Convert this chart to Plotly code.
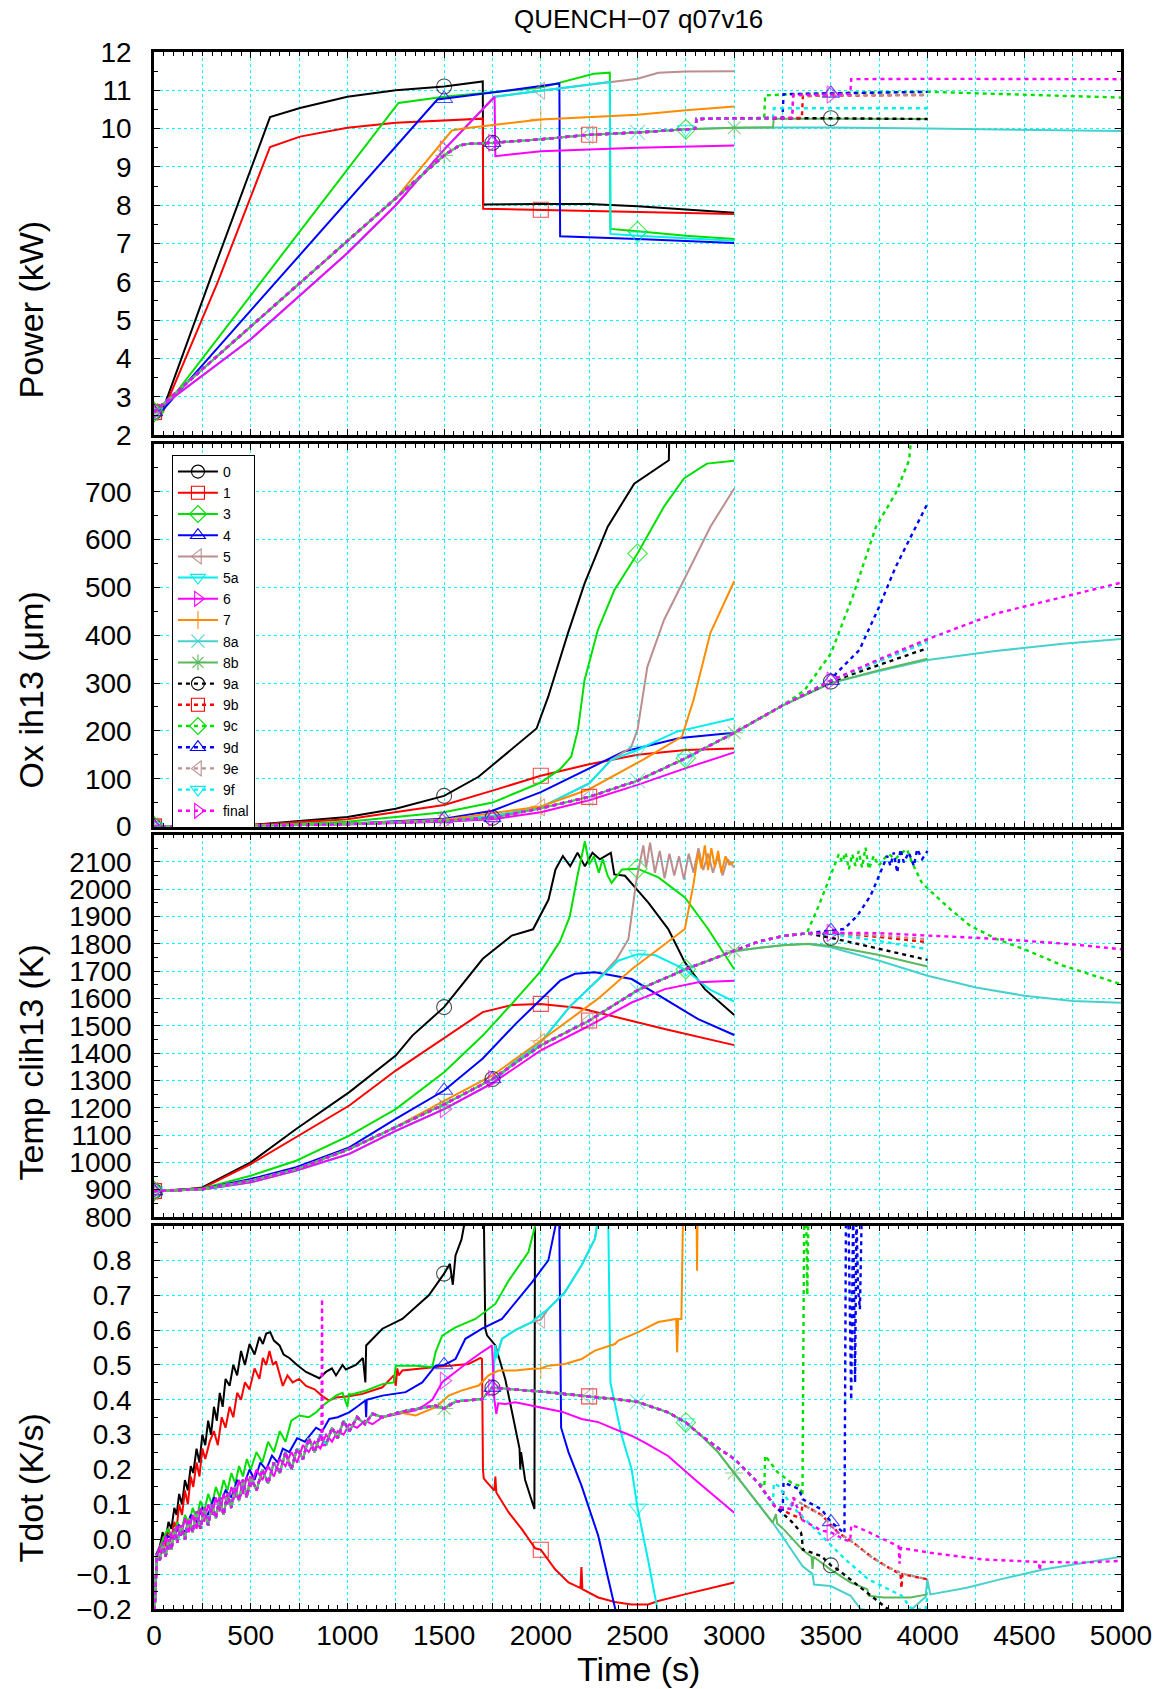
import plotly.graph_objects as go

# ---------------------------------------------------------------- series
SERIES = ["0", "1", "3", "4", "5", "5a", "6", "7", "8a", "8b",
          "9a", "9b", "9c", "9d", "9e", "9f", "final"]
COLORS = ["#000000", "#ff0000", "#00e000", "#0000ff", "#bc8f8f", "#00eeee",
          "#ff00ff", "#ff8c00", "#48d1cc", "#5cb85c",
          "#000000", "#ff0000", "#00e000", "#0000ff", "#bc8f8f", "#00eeee", "#ff00ff"]
SYMBOLS = ["circle-open", "square-open", "diamond-open", "triangle-up-open",
           "triangle-left-open", "triangle-down-open", "triangle-right-open",
           "cross-thin-open", "x-thin-open", "asterisk-open",
           "circle-open", "square-open", "diamond-open", "triangle-up-open",
           "triangle-left-open", "triangle-down-open", "triangle-right-open"]
DOTTED = [False] * 10 + [True] * 7
MARK_TIMES = [[0, 1500], [0, 2000], [0, 2500], [0, 1500], [0, 2000], [0, 2500],
              [0, 1500], [0, 2000], [0, 2500], [0, 1500, 3000],
              [0, 1750, 3500], [0, 2250], [0, 2750], [0, 1750, 3500],
              [0, 2250], [0, 2750], [0, 1750, 3500]]

# ---------------------------------------------------------------- Power (kW)
PW_0_T = [0, 45, 300, 600, 755, 1000, 1250, 1500, 1700, 1702, 2000, 2250, 2500, 2750, 3000]
PW_0 = [2.6, 2.65, 6.2, 10.3, 10.54, 10.83, 11.0, 11.1, 11.23, 8.02, 8.03, 8.03, 7.97, 7.88, 7.8]
PW_1_T = [0, 50, 330, 600, 755, 1000, 1250, 1500, 1700, 1702, 2000, 2500, 3000]
PW_1 = [2.6, 2.65, 6.0, 9.52, 9.79, 10.02, 10.15, 10.21, 10.26, 7.91, 7.88, 7.83, 7.77]
PW_3_T = [0, 45, 1264, 1500, 2000, 2155, 2274, 2357, 2360, 2500, 2750, 3000]
PW_3 = [2.6, 2.65, 10.67, 10.83, 11.07, 11.28, 11.43, 11.46, 7.38, 7.32, 7.2, 7.12]
PW_4_T = [0, 45, 1465, 1500, 1750, 2096, 2100, 2500, 3000]
PW_4 = [2.6, 2.65, 10.76, 10.78, 10.94, 11.18, 7.19, 7.12, 7.01]
PW_5_T = [0, 500, 1000, 1250, 1500, 1761, 2000, 2357, 2500, 2608, 2750, 3000]
PW_5 = [2.6, 4.5, 6.75, 8.0, 9.45, 10.83, 10.99, 11.22, 11.3, 11.46, 11.49, 11.5]
PW_5A_T = [0, 500, 1000, 1250, 1500, 1761, 2000, 2357, 2360, 2500, 3000]
PW_5A = [2.6, 4.5, 6.75, 8.0, 9.45, 10.83, 10.99, 11.22, 7.25, 7.2, 7.07]
PW_6_T = [0, 500, 1000, 1250, 1500, 1761, 1765, 2000, 2500, 3000]
PW_6 = [2.6, 4.5, 6.75, 8.0, 9.45, 10.83, 9.28, 9.41, 9.5, 9.56]
PW_7_T = [0, 1250, 1540, 1600, 2000, 2500, 2750, 3000]
PW_7 = [2.6, 8.18, 9.95, 10.0, 10.24, 10.36, 10.48, 10.58]
PW_RAMP_T = [0, 1500, 1580, 1620, 1750, 2000, 2250, 2500, 2750]
PW_RAMP = [2.6, 9.3, 9.56, 9.6, 9.63, 9.72, 9.84, 9.9, 9.98]
PW_8A_TAIL_T = [3000, 3200, 3500, 4000, 4500, 5000]
PW_8A_TAIL = [10.02, 10.03, 10.03, 10.0, 9.97, 9.94]
PW_8B_TAIL_T = [3000, 3200, 3205, 3500, 4000]
PW_8B_TAIL = [10.02, 10.03, 10.26, 10.26, 10.25]
PW_9_STEP_T = [2800, 2805, 3000]
PW_9_STEP = [10.0, 10.25, 10.27]
PW_9A_TAIL_T = [3500, 4000]
PW_9A_TAIL = [10.27, 10.25]
PW_9B_TAIL_T = [3350, 3355, 3500, 4000]
PW_9B_TAIL = [10.28, 10.85, 10.86, 10.88]
PW_9C_TAIL_T = [3155, 3160, 3500, 4000, 4500, 5000]
PW_9C_TAIL = [10.28, 10.87, 10.93, 10.96, 10.88, 10.81]
PW_9D_TAIL_T = [3250, 3255, 3500, 4000]
PW_9D_TAIL = [10.28, 10.9, 10.92, 10.96]
PW_9E_TAIL_T = [3300, 3305, 3500, 4000]
PW_9E_TAIL = [10.28, 10.86, 10.87, 10.88]
PW_9F_TAIL_T = [3200, 3205, 3500, 4000]
PW_9F_TAIL = [10.28, 10.53, 10.53, 10.53]
PW_FINAL_TAIL_T = [3300, 3305, 3500, 3600, 3605, 4000, 5000]
PW_FINAL_TAIL = [10.28, 10.88, 10.89, 10.9, 11.29, 11.3, 11.29]

# ---------------------------------------------------------------- Ox ih13 (um)
OX_0_T = [0, 500, 1000, 1250, 1500, 1678, 1978, 2038, 2140, 2226, 2346, 2483, 2662, 2665]
OX_0 = [0, 3, 20, 37, 64, 104, 205, 271, 404, 508, 627, 717, 766, 830]
OX_1_T = [0, 500, 1000, 1500, 1750, 2000, 2250, 2500, 2750, 3000]
OX_1 = [0, 3, 15, 45, 75, 106, 130, 150, 160, 163]
OX_3_T = [0, 500, 1000, 1500, 1750, 2000, 2100, 2157, 2192, 2226, 2295, 2380, 2500, 2637, 2740, 2859, 3000]
OX_3 = [0, 2, 10, 30, 50, 92, 120, 146, 202, 306, 411, 494, 571, 669, 728, 759, 765]
OX_4_T = [0, 1000, 1500, 1750, 2000, 2200, 2430, 2720, 3000]
OX_4 = [0, 6, 16, 33, 72, 112, 157, 185, 196]
OX_5_T = [0, 1000, 1500, 1750, 2000, 2250, 2363, 2466, 2500, 2551, 2637, 2757, 2877, 3000]
OX_5 = [0, 5, 13, 22, 40, 90, 139, 165, 202, 334, 432, 529, 627, 707]
OX_5A_T = [0, 1000, 1500, 1750, 2000, 2250, 2363, 2500, 2700, 3000]
OX_5A = [0, 5, 13, 22, 40, 90, 139, 160, 198, 226]
OX_6_T = [0, 1000, 1500, 1750, 2000, 2250, 2500, 2750, 3000]
OX_6 = [0, 4, 10, 15, 30, 55, 87, 122, 155]
OX_7_T = [0, 1000, 1500, 2000, 2250, 2530, 2730, 2790, 2877, 3000]
OX_7 = [0, 5, 14, 42, 78, 140, 188, 265, 405, 513]
OX_RAMP_T = [0, 500, 1000, 1250, 1500, 1750, 2000, 2250, 2500, 2750, 3000, 3250]
OX_RAMP = [0, 1, 5, 8, 12, 18, 38, 62, 96, 143, 196, 253]
OX_8A_TAIL_T = [3500, 3750, 4000, 4350, 4700, 5000]
OX_8A_TAIL = [300, 325, 348, 367, 382, 392]
OX_8B_TAIL_T = [3500, 3750, 4000]
OX_8B_TAIL = [300, 327, 351]
OX_9A_TAIL_T = [3500, 3750, 4000]
OX_9A_TAIL = [303, 338, 373]
OX_9B_TAIL_T = [3500, 3750, 4000]
OX_9B_TAIL = [305, 348, 390]
OX_9C_TAIL_T = [3364, 3500, 3613, 3733, 3835, 3904, 3915]
OX_9C_TAIL = [285, 362, 481, 627, 697, 766, 810]
OX_9D_TAIL_T = [3500, 3527, 3647, 3750, 3835, 4000]
OX_9D_TAIL = [305, 320, 369, 460, 543, 676]
OX_9E_TAIL_T = [3500, 3750, 4000]
OX_9E_TAIL = [305, 347, 388]
OX_9F_TAIL_T = [3500, 3750, 4000]
OX_9F_TAIL = [305, 346, 386]
OX_FINAL_TAIL_T = [3500, 3750, 4000, 4350, 4700, 5000]
OX_FINAL_TAIL = [305, 350, 392, 445, 480, 510]

# ---------------------------------------------------------------- Temp clih13 (K)
TP_0_T = [0, 100, 250, 500, 735, 1010, 1250, 1336, 1500, 1700, 1850, 1960, 2040, 2076,
          2114, 2152, 2190, 2228, 2267, 2305, 2362, 2380, 2435, 2556, 2659, 2745, 2848, 3000]
TP_0 = [895, 896, 908, 1000, 1122, 1257, 1391, 1464, 1568, 1745, 1830, 1853, 1962, 2072,
        2121, 2084, 2133, 2084, 2133, 2109, 2133, 2054, 2049, 1951, 1854, 1732, 1634, 1539]
TP_1_T = [0, 250, 500, 735, 1010, 1250, 1500, 1700, 1850, 2000, 2200, 2400, 2640, 3000]
TP_1 = [895, 905, 994, 1092, 1208, 1336, 1455, 1550, 1576, 1580, 1565, 1530, 1488, 1429]
TP_3_T = [0, 250, 500, 735, 1010, 1250, 1500, 1700, 1850, 2000, 2100, 2150, 2190, 2228,
          2250, 2275, 2300, 2320, 2345, 2366, 2420, 2500, 2608, 2745, 2865, 3000]
TP_3 = [895, 904, 951, 1006, 1098, 1195, 1330, 1464, 1580, 1700, 1810, 1900, 2050, 2175,
        2090, 2120, 2060, 2110, 2050, 2023, 2072, 2075, 2043, 1970, 1854, 1707]
TP_4_T = [0, 250, 500, 735, 1010, 1250, 1500, 1700, 1870, 2100, 2177, 2280, 2470, 2642, 2814, 3000]
TP_4 = [895, 903, 939, 982, 1055, 1159, 1263, 1380, 1507, 1665, 1690, 1696, 1671, 1598, 1524, 1466]
TP_5_T = [0, 250, 500, 735, 1010, 1250, 1500, 1750, 1850, 2000, 2150, 2300, 2392, 2453,
          2495, 2530, 2545, 2565, 2590, 2615, 2640, 2665, 2690, 2715, 2740, 2765, 2790,
          2815, 2840, 2865, 2890, 2915, 2940, 2965, 3000]
TP_5 = [895, 901, 927, 970, 1031, 1115, 1195, 1290, 1360, 1440, 1570, 1672, 1744, 1817,
        2036, 2160, 2080, 2170, 2060, 2140, 2040, 2130, 2050, 2120, 2035, 2130, 2060,
        2150, 2070, 2130, 2060, 2120, 2050, 2110, 2080]
TP_5A_T = [0, 250, 500, 735, 1010, 1250, 1500, 1750, 1850, 2000, 2150, 2300, 2400, 2500,
           2590, 2750, 2870, 3000]
TP_5A = [895, 901, 927, 970, 1031, 1115, 1195, 1290, 1360, 1440, 1570, 1672, 1738, 1762,
         1759, 1705, 1634, 1588]
TP_6_T = [0, 250, 500, 735, 1010, 1250, 1500, 1750, 2000, 2250, 2470, 2642, 2814, 3000]
TP_6 = [895, 901, 927, 970, 1031, 1115, 1195, 1290, 1410, 1500, 1585, 1634, 1659, 1665]
TP_7_T = [0, 250, 500, 735, 1010, 1250, 1500, 1750, 2000, 2298, 2470, 2745, 2790, 2814,
          2831, 2848, 2865, 2882, 2900, 2917, 2934, 2955, 2975, 3000]
TP_7 = [895, 902, 933, 975, 1049, 1130, 1225, 1318, 1445, 1600, 1707, 1854, 2020, 2134,
        2075, 2160, 2070, 2150, 2080, 2140, 2060, 2120, 2090, 2100]
TP_RAMP_T = [0, 250, 500, 735, 1010, 1250, 1500, 1750, 2000, 2250, 2500, 2750, 3000]
TP_RAMP = [895, 902, 933, 975, 1049, 1130, 1212, 1305, 1428, 1519, 1630, 1707, 1774]
TP_8A_TAIL_T = [3250, 3380, 3500, 3750, 4000, 4250, 4500, 4750, 5000]
TP_8A_TAIL = [1795, 1799, 1787, 1738, 1683, 1640, 1610, 1591, 1584]
TP_8B_TAIL_T = [3250, 3380, 3500, 3750, 4000]
TP_8B_TAIL = [1795, 1800, 1792, 1759, 1717]
TP_9_MID_T = [3125, 3250, 3375]
TP_9_MID = [1808, 1828, 1838]
TP_9A_TAIL_T = [3500, 3750, 4000]
TP_9A_TAIL = [1822, 1782, 1741]
TP_9B_TAIL_T = [3500, 3750, 4000]
TP_9B_TAIL = [1840, 1825, 1806]
TP_9C_TAIL_T = [3437, 3505, 3541, 3558, 3576, 3593, 3610, 3627, 3644, 3661, 3679, 3696,
                3722, 3747, 3773, 3799, 3833, 3868, 3893, 3919, 3970, 4022, 4117, 4220,
                4357, 4500, 4700, 5000]
TP_9C_TAIL = [1939, 2061, 2128, 2098, 2134, 2073, 2128, 2085, 2140, 2079, 2152, 2073,
              2122, 2085, 2110, 2128, 2110, 2134, 2146, 2098, 2024, 1988, 1927, 1866,
              1817, 1780, 1720, 1652]
TP_9D_TAIL_T = [3500, 3567, 3636, 3705, 3756, 3791, 3808, 3825, 3843, 3860, 3877, 3903,
                3929, 3946, 3972, 4000]
TP_9D_TAIL = [1848, 1854, 1902, 1976, 2061, 2122, 2085, 2134, 2061, 2146, 2098, 2134,
              2085, 2146, 2110, 2140]
TP_9E_TAIL_T = [3500, 3750, 4000]
TP_9E_TAIL = [1840, 1830, 1817]
TP_9F_TAIL_T = [3500, 3750, 4000]
TP_9F_TAIL = [1836, 1810, 1780]
TP_FINAL_TAIL_T = [3500, 3750, 4000, 4250, 4500, 4750, 5000]
TP_FINAL_TAIL = [1840, 1839, 1830, 1822, 1811, 1798, 1780]

# ---------------------------------------------------------------- Tdot (K/s)
TD_0_T = [0, 8, 15, 30, 45, 60, 75, 90, 105, 117, 130, 145, 160, 175, 190, 203, 220, 235,
          250, 265, 280, 295, 310, 325, 340, 355, 370, 391, 410, 430, 450, 470, 494, 520,
          545, 563, 580, 601, 620, 649, 670, 700, 740, 786, 820, 855, 889, 920, 941, 975,
          992, 1044, 1080, 1093, 1097, 1140, 1181, 1284, 1353, 1421, 1500, 1530, 1545,
          1559, 1590, 1620, 1705, 1713, 1722, 1765, 1816, 1868, 1890, 1894, 1898, 1919,
          1967, 1970]
TD_0 = [-0.25, -0.1, -0.04, -0.02, 0.02, 0.0, 0.05, 0.03, 0.09, 0.07, 0.13, 0.1, 0.17, 0.14,
        0.21, 0.19, 0.26, 0.22, 0.3, 0.27, 0.34, 0.3, 0.38, 0.34, 0.42, 0.38, 0.46, 0.44,
        0.5, 0.47, 0.54, 0.5, 0.56, 0.53, 0.58, 0.56, 0.59, 0.594, 0.57, 0.556, 0.53, 0.52,
        0.5, 0.48, 0.47, 0.462, 0.48, 0.49, 0.47, 0.5, 0.487, 0.5, 0.52, 0.45, 0.556, 0.58,
        0.604, 0.632, 0.666, 0.7, 0.762, 0.79, 0.73, 0.814, 0.86, 0.95, 0.95, 0.604, 0.585,
        0.556, 0.46, 0.325, 0.26, 0.2, 0.25, 0.17, 0.087, 0.95]
TD_1_T = [0, 8, 15, 30, 45, 60, 75, 90, 105, 117, 130, 145, 160, 175, 190, 203, 220, 235,
          250, 265, 288, 310, 330, 350, 370, 391, 410, 430, 450, 470, 494, 520, 545, 563,
          580, 597, 615, 631, 650, 666, 690, 717, 750, 786, 830, 872, 906, 941, 1009, 1078,
          1181, 1240, 1250, 1258, 1265, 1284, 1456, 1627, 1688, 1696, 1701, 1705, 1722,
          1760, 1765, 1770, 1834, 1902, 1971, 2000, 2074, 2143, 2205, 2210, 2215, 2297,
          2383, 2469, 2555, 2607, 2744, 3000]
TD_1 = [-0.25, -0.12, -0.05, -0.03, 0.0, -0.02, 0.03, 0.0, 0.05, 0.03, 0.1, 0.07, 0.14, 0.1,
        0.18, 0.15, 0.22, 0.18, 0.26, 0.23, 0.28, 0.31, 0.27, 0.35, 0.32, 0.38, 0.35, 0.42,
        0.4, 0.45, 0.43, 0.49, 0.46, 0.52, 0.5, 0.54, 0.5, 0.51, 0.47, 0.44, 0.47, 0.45,
        0.46, 0.44, 0.43, 0.41, 0.398, 0.407, 0.41, 0.417, 0.436, 0.47, 0.44, 0.49, 0.47,
        0.484, 0.494, 0.503, 0.52, 0.517, 0.2, 0.175, 0.163, 0.14, 0.18, 0.134, 0.077,
        0.029, -0.026, -0.03, -0.086, -0.124, -0.14, -0.08, -0.143, -0.167, -0.18, -0.187,
        -0.187, -0.177, -0.158, -0.124]
TD_3_T = [0, 8, 15, 40, 70, 100, 120, 140, 160, 180, 200, 220, 240, 260, 280, 300, 320, 340,
          360, 380, 400, 420, 440, 460, 480, 500, 530, 560, 590, 620, 650, 680, 710, 752,
          800, 838, 872, 941, 975, 1000, 1009, 1020, 1095, 1181, 1240, 1250, 1353, 1439,
          1456, 1490, 1559, 1662, 1765, 1834, 1902, 1936, 1971, 1975]
TD_3 = [-0.25, -0.1, -0.04, -0.01, 0.03, 0.0, 0.05, 0.02, 0.07, 0.04, 0.09, 0.06, 0.11, 0.08,
        0.13, 0.1, 0.15, 0.12, 0.17, 0.14, 0.19, 0.16, 0.21, 0.18, 0.23, 0.2, 0.25, 0.22,
        0.28, 0.25, 0.31, 0.28, 0.34, 0.355, 0.35, 0.364, 0.383, 0.412, 0.42, 0.38, 0.417,
        0.415, 0.426, 0.445, 0.45, 0.498, 0.498, 0.494, 0.537, 0.584, 0.608, 0.632, 0.675,
        0.742, 0.795, 0.824, 0.9, 0.95]
TD_4_T = [0, 8, 15, 40, 70, 100, 130, 160, 190, 220, 250, 280, 310, 340, 370, 400, 430, 460,
          494, 520, 550, 580, 610, 640, 666, 700, 740, 780, 838, 870, 906, 950, 1009, 1050,
          1093, 1097, 1100, 1181, 1301, 1387, 1456, 1500, 1559, 1610, 1696, 1799, 1868,
          1954, 2039, 2095, 2105, 2143, 2211, 2297, 2385, 2400]
TD_4 = [-0.25, -0.1, -0.04, -0.02, 0.01, 0.0, 0.04, 0.02, 0.07, 0.05, 0.09, 0.07, 0.12, 0.1,
        0.14, 0.12, 0.17, 0.15, 0.2, 0.17, 0.22, 0.2, 0.24, 0.22, 0.26, 0.25, 0.29, 0.28,
        0.32, 0.31, 0.345, 0.35, 0.364, 0.38, 0.398, 0.35, 0.4, 0.412, 0.422, 0.45, 0.498,
        0.5, 0.517, 0.575, 0.604, 0.632, 0.68, 0.737, 0.8, 0.95, 0.32, 0.25, 0.153, 0.01,
        -0.2, -0.25]
TD_5_TAIL_T = [1760, 1765, 1770, 1799, 1868, 1954, 2000, 2039, 2125, 2211, 2280, 2305, 2330]
TD_5_TAIL = [0.5, 0.556, 0.52, 0.575, 0.6, 0.623, 0.63, 0.661, 0.709, 0.786, 0.862, 0.95, 1.1]
TD_5A_TAIL_T = [1760, 1765, 1770, 1799, 1868, 1954, 2039, 2125, 2211, 2280, 2305, 2348, 2360,
                2417, 2470, 2500, 2555, 2607, 2620]
TD_5A_TAIL = [0.5, 0.556, 0.52, 0.575, 0.6, 0.623, 0.661, 0.709, 0.786, 0.862, 0.95, 0.95,
              0.45, 0.3, 0.2, 0.09, -0.06, -0.2, -0.25]
TD_6_T = [0, 8, 15, 30, 45, 60, 75, 90, 105, 120, 140, 160, 180, 200, 220, 240, 260, 280,
          300, 320, 340, 360, 380, 400, 420, 440, 460, 480, 500, 530, 560, 590, 620, 650,
          680, 710, 740, 770, 800, 830, 860, 890, 920, 950, 980, 1010, 1050, 1090, 1130,
          1181, 1267, 1353, 1400, 1439, 1490, 1500, 1559, 1627, 1696, 1748, 1760, 1770,
          1780, 1816, 1868, 1954, 2039, 2108, 2211, 2297, 2383, 2469, 2538, 2658, 2795, 3000]
TD_6 = [-0.25, -0.12, -0.05, -0.02, -0.04, 0.01, -0.03, 0.02, 0.0, 0.04, 0.01, 0.06, 0.02,
        0.07, 0.03, 0.09, 0.05, 0.1, 0.07, 0.12, 0.08, 0.13, 0.1, 0.15, 0.12, 0.17, 0.13,
        0.18, 0.15, 0.2, 0.17, 0.21, 0.18, 0.23, 0.21, 0.25, 0.22, 0.27, 0.25, 0.28, 0.26,
        0.3, 0.28, 0.31, 0.3, 0.33, 0.32, 0.34, 0.33, 0.35, 0.36, 0.37, 0.385, 0.4, 0.45,
        0.455, 0.48, 0.51, 0.537, 0.556, 0.40, 0.36, 0.39, 0.388, 0.393, 0.383, 0.374,
        0.366, 0.345, 0.336, 0.316, 0.297, 0.277, 0.239, 0.172, 0.076]
TD_7_TAIL_T = [1353, 1456, 1524, 1593, 1679, 1730, 1782, 1868, 1954, 2000, 2039, 2125, 2211,
               2280, 2383, 2401, 2504, 2607, 2700, 2705, 2710, 2727, 2736, 2805, 2808, 2811]
TD_7_TAIL = [0.355, 0.379, 0.412, 0.427, 0.441, 0.47, 0.484, 0.484, 0.489, 0.49, 0.498,
             0.503, 0.517, 0.541, 0.56, 0.57, 0.594, 0.623, 0.632, 0.536, 0.632, 0.632,
             0.95, 0.95, 0.77, 0.95]
TD_RAMP_T = [0, 8, 15, 30, 45, 60, 75, 90, 105, 120, 140, 160, 180, 200, 220, 240, 260, 280,
             300, 320, 340, 360, 380, 400, 420, 440, 460, 480, 500, 530, 560, 590, 620, 650,
             680, 710, 740, 770, 800, 830, 860, 890, 920, 950, 980, 1010, 1050, 1090, 1130,
             1181, 1267, 1353, 1456, 1500, 1560, 1610, 1696, 1750, 1834, 1954, 2039, 2150,
             2250, 2383, 2500, 2658, 2750, 2830]
TD_RAMP = [-0.25, -0.1, -0.04, -0.06, -0.01, -0.05, 0.0, -0.03, 0.03, -0.01, 0.04, 0.0, 0.06,
           0.02, 0.08, 0.03, 0.09, 0.04, 0.1, 0.06, 0.12, 0.07, 0.13, 0.09, 0.15, 0.11, 0.17,
           0.12, 0.18, 0.14, 0.2, 0.16, 0.22, 0.19, 0.25, 0.2, 0.26, 0.23, 0.29, 0.25, 0.3,
           0.27, 0.32, 0.29, 0.34, 0.31, 0.35, 0.33, 0.36, 0.35, 0.364, 0.374, 0.383, 0.375,
           0.395, 0.398, 0.402, 0.435, 0.431, 0.427, 0.422, 0.415, 0.41, 0.402, 0.394, 0.364,
           0.335, 0.297]
TD_8_MID_T = [2916, 3000]
TD_8_MID = [0.25, 0.19]
TD_8A_TAIL_T = [3088, 3199, 3259, 3353, 3405, 3413, 3499, 3602, 3653, 3800, 3900, 3990, 3998,
                4014, 4203, 4375, 4598, 4805, 5000]
TD_8A_TAIL = [0.125, 0.048, 0.0, -0.077, -0.1, -0.13, -0.134, -0.162, -0.2, -0.215, -0.21,
              -0.165, -0.114, -0.158, -0.139, -0.115, -0.087, -0.067, -0.05]
TD_8B_TAIL_T = [3088, 3199, 3216, 3222, 3259, 3353, 3400, 3405, 3410, 3499, 3602, 3688, 3696,
                3774, 3911, 3998]
TD_8B_TAIL = [0.125, 0.048, 0.072, 0.045, 0.027, -0.03, -0.05, -0.085, -0.05, -0.087, -0.124,
              -0.143, -0.162, -0.167, -0.167, -0.158]
TD_9_MID_T = [2916, 3002, 3122]
TD_9_MID = [0.262, 0.23, 0.163]
TD_9A_TAIL_T = [3208, 3298, 3345, 3350, 3355, 3451, 3500, 3536, 3622, 3708, 3794, 3850]
TD_9A_TAIL = [0.096, 0.05, 0.02, 0.005, -0.03, -0.048, -0.075, -0.087, -0.124, -0.162, -0.2, -0.23]
TD_9B_TAIL_T = [3208, 3298, 3345, 3353, 3451, 3536, 3622, 3708, 3794, 3860, 3865, 3870, 3966, 4000]
TD_9B_TAIL = [0.096, 0.07, 0.06, 0.1, 0.07, 0.02, -0.012, -0.05, -0.08, -0.1, -0.14, -0.1,
              -0.11, -0.115]
TD_9C_TAIL_T = [3156, 3160, 3225, 3294, 3336, 3353, 3362, 3372, 3378, 3384]
TD_9C_TAIL = [0.15, 0.24, 0.192, 0.163, 0.153, 0.125, 0.95, 0.95, 0.7, 0.95]
TD_9D_TAIL_T = [3208, 3250, 3255, 3336, 3353, 3451, 3500, 3570, 3578, 3590, 3605, 3615, 3625,
                3632, 3640, 3650, 3660]
TD_9D_TAIL = [0.096, 0.075, 0.163, 0.144, 0.115, 0.086, 0.05, 0.017, 0.95, 0.95, 0.40, 0.95,
              0.45, 0.95, 0.72, 0.66, 0.95]
TD_9E_TAIL_T = [3208, 3298, 3305, 3353, 3451, 3536, 3622, 3708, 3794, 3880, 3966, 4000]
TD_9E_TAIL = [0.096, 0.086, 0.12, 0.1, 0.07, 0.02, -0.012, -0.05, -0.08, -0.1, -0.11, -0.115]
TD_9F_TAIL_T = [3200, 3205, 3229, 3298, 3367, 3470, 3573, 3694, 3866, 3917, 3990, 4000]
TD_9F_TAIL = [0.1, 0.16, 0.153, 0.095, 0.057, 0.0, -0.057, -0.115, -0.162, -0.2, -0.2, -0.16]
TD_FINAL_SPIKE_T = [866, 869, 872]
TD_FINAL_SPIKE = [0.28, 0.69, 0.27]
TD_FINAL_TAIL_T = [3208, 3298, 3305, 3353, 3451, 3500, 3573, 3600, 3605, 3642, 3778, 3850,
                   3855, 3860, 4031, 4289, 4575, 4580, 4585, 4805, 5000]
TD_FINAL_TAIL = [0.096, 0.086, 0.12, 0.055, 0.025, 0.02, -0.002, -0.005, 0.04, 0.034, 0.0,
                 -0.02, -0.07, -0.025, -0.04, -0.058, -0.065, -0.09, -0.065, -0.067, -0.062]


# ---------------------------------------------------------------- assembly
def cat(*parts):
    t, v = [], []
    for pt, pv in parts:
        assert len(pt) == len(pv)
        t += list(pt)
        v += list(pv)
    return t, v


def upto(pt, pv, tmax):
    keep = [(a, b) for a, b in zip(pt, pv) if a <= tmax]
    return [a for a, _ in keep], [b for _, b in keep]


def merged(*parts):
    t, v = cat(*parts)
    pairs = sorted(zip(t, v), key=lambda p: p[0])
    return [a for a, _ in pairs], [b for _, b in pairs]


PW_R = (PW_RAMP_T, PW_RAMP)
PW_9 = (PW_9_STEP_T, PW_9_STEP)
POWER = {
    "0": (PW_0_T, PW_0), "1": (PW_1_T, PW_1), "3": (PW_3_T, PW_3), "4": (PW_4_T, PW_4),
    "5": (PW_5_T, PW_5), "5a": (PW_5A_T, PW_5A), "6": (PW_6_T, PW_6), "7": (PW_7_T, PW_7),
    "8a": cat(PW_R, (PW_8A_TAIL_T, PW_8A_TAIL)),
    "8b": cat(PW_R, (PW_8B_TAIL_T, PW_8B_TAIL)),
    "9a": cat(PW_R, PW_9, (PW_9A_TAIL_T, PW_9A_TAIL)),
    "9b": cat(PW_R, PW_9, (PW_9B_TAIL_T, PW_9B_TAIL)),
    "9c": cat(PW_R, PW_9, (PW_9C_TAIL_T, PW_9C_TAIL)),
    "9d": cat(PW_R, PW_9, (PW_9D_TAIL_T, PW_9D_TAIL)),
    "9e": cat(PW_R, PW_9, (PW_9E_TAIL_T, PW_9E_TAIL)),
    "9f": cat(PW_R, PW_9, (PW_9F_TAIL_T, PW_9F_TAIL)),
    "final": cat(PW_R, PW_9, (PW_FINAL_TAIL_T, PW_FINAL_TAIL)),
}

OX_R = (OX_RAMP_T, OX_RAMP)
OXIDE = {
    "0": (OX_0_T, OX_0), "1": (OX_1_T, OX_1), "3": (OX_3_T, OX_3), "4": (OX_4_T, OX_4),
    "5": (OX_5_T, OX_5), "5a": (OX_5A_T, OX_5A), "6": (OX_6_T, OX_6), "7": (OX_7_T, OX_7),
    "8a": cat(OX_R, (OX_8A_TAIL_T, OX_8A_TAIL)),
    "8b": cat(OX_R, (OX_8B_TAIL_T, OX_8B_TAIL)),
    "9a": cat(OX_R, (OX_9A_TAIL_T, OX_9A_TAIL)),
    "9b": cat(OX_R, (OX_9B_TAIL_T, OX_9B_TAIL)),
    "9c": cat(OX_R, (OX_9C_TAIL_T, OX_9C_TAIL)),
    "9d": cat(OX_R, (OX_9D_TAIL_T, OX_9D_TAIL)),
    "9e": cat(OX_R, (OX_9E_TAIL_T, OX_9E_TAIL)),
    "9f": cat(OX_R, (OX_9F_TAIL_T, OX_9F_TAIL)),
    "final": cat(OX_R, (OX_FINAL_TAIL_T, OX_FINAL_TAIL)),
}

TP_R = (TP_RAMP_T, TP_RAMP)
TP_9 = (TP_9_MID_T, TP_9_MID)
TEMP = {
    "0": (TP_0_T, TP_0), "1": (TP_1_T, TP_1), "3": (TP_3_T, TP_3), "4": (TP_4_T, TP_4),
    "5": (TP_5_T, TP_5), "5a": (TP_5A_T, TP_5A), "6": (TP_6_T, TP_6), "7": (TP_7_T, TP_7),
    "8a": cat(TP_R, (TP_8A_TAIL_T, TP_8A_TAIL)),
    "8b": cat(TP_R, (TP_8B_TAIL_T, TP_8B_TAIL)),
    "9a": cat(TP_R, TP_9, (TP_9A_TAIL_T, TP_9A_TAIL)),
    "9b": cat(TP_R, TP_9, (TP_9B_TAIL_T, TP_9B_TAIL)),
    "9c": cat(TP_R, TP_9, (TP_9C_TAIL_T, TP_9C_TAIL)),
    "9d": cat(TP_R, TP_9, (TP_9D_TAIL_T, TP_9D_TAIL)),
    "9e": cat(TP_R, TP_9, (TP_9E_TAIL_T, TP_9E_TAIL)),
    "9f": cat(TP_R, TP_9, (TP_9F_TAIL_T, TP_9F_TAIL)),
    "final": cat(TP_R, TP_9, (TP_FINAL_TAIL_T, TP_FINAL_TAIL)),
}

TD_R = (TD_RAMP_T, TD_RAMP)
TD_8 = (TD_8_MID_T, TD_8_MID)
TD_9 = (TD_9_MID_T, TD_9_MID)
TDOT = {
    "0": (TD_0_T, TD_0), "1": (TD_1_T, TD_1), "3": (TD_3_T, TD_3), "4": (TD_4_T, TD_4),
    "5": cat(upto(TD_RAMP_T, TD_RAMP, 1750), (TD_5_TAIL_T, TD_5_TAIL)),
    "5a": cat(upto(TD_RAMP_T, TD_RAMP, 1750), (TD_5A_TAIL_T, TD_5A_TAIL)),
    "6": (TD_6_T, TD_6),
    "7": cat(upto(TD_RAMP_T, TD_RAMP, 1267), (TD_7_TAIL_T, TD_7_TAIL)),
    "8a": cat(TD_R, TD_8, (TD_8A_TAIL_T, TD_8A_TAIL)),
    "8b": cat(TD_R, TD_8, (TD_8B_TAIL_T, TD_8B_TAIL)),
    "9a": cat(TD_R, TD_9, (TD_9A_TAIL_T, TD_9A_TAIL)),
    "9b": cat(TD_R, TD_9, (TD_9B_TAIL_T, TD_9B_TAIL)),
    "9c": cat(TD_R, TD_9, (TD_9C_TAIL_T, TD_9C_TAIL)),
    "9d": cat(TD_R, TD_9, (TD_9D_TAIL_T, TD_9D_TAIL)),
    "9e": cat(TD_R, TD_9, (TD_9E_TAIL_T, TD_9E_TAIL)),
    "9f": cat(TD_R, TD_9, (TD_9F_TAIL_T, TD_9F_TAIL)),
    "final": merged(TD_R, (TD_FINAL_SPIKE_T, TD_FINAL_SPIKE), TD_9,
                    (TD_FINAL_TAIL_T, TD_FINAL_TAIL)),
}

PANELS = [POWER, OXIDE, TEMP, TDOT]

# ---------------------------------------------------------------- figure geometry
W, H = 1164, 1689
M_L, M_R, M_T, M_B = 154, 40, 52, 80
PLOT_H = H - M_T - M_B
BOTTOM = H - M_B
PANEL_PX = [(52, 435), (444, 826.5), (834.5, 1217), (1225.5, 1609)]


def dom(top, bot):
    return [max(0.0, (BOTTOM - bot) / PLOT_H), min(1.0, (BOTTOM - top) / PLOT_H)]


def px_x(x):
    return (x - M_L) / (W - M_L - M_R)


def px_y(y):
    return (BOTTOM - y) / PLOT_H


FONT = "Liberation Sans, Arial, Helvetica, sans-serif"
GRID = "#00ffff"
MS = 15
LW_SOLID, LW_DOT = 2.0, 2.4

fig = go.Figure()

for p, data in enumerate(PANELS):
    ax = "" if p == 0 else str(p + 1)
    for i, name in enumerate(SERIES):
        t, v = data[name]
        sizes = [MS if tt in MARK_TIMES[i] else 0 for tt in t]
        fig.add_trace(go.Scatter(
            x=t, y=v, mode="lines+markers", name=name, legendgroup=name,
            showlegend=False, xaxis="x" + ax, yaxis="y" + ax, hoverinfo="skip",
            line=dict(color=COLORS[i], width=LW_DOT if DOTTED[i] else LW_SOLID,
                      dash="4px,4px" if DOTTED[i] else "solid"),
            marker=dict(symbol=SYMBOLS[i], size=sizes, color=COLORS[i],
                        line=dict(color=COLORS[i], width=1.1)),
        ))

# legend entries
for i, name in enumerate(SERIES):
    fig.add_trace(go.Scatter(
        x=[None], y=[None], mode="lines+markers", name=name, legendgroup=name,
        showlegend=True, xaxis="x2", yaxis="y2",
        line=dict(color=COLORS[i], width=LW_DOT if DOTTED[i] else LW_SOLID,
                  dash="4px,4px" if DOTTED[i] else "solid"),
        marker=dict(symbol=SYMBOLS[i], size=13, color=COLORS[i],
                    line=dict(color=COLORS[i], width=1.1)),
    ))

X_TICKS = list(range(0, 5001, 250))
X_TEXT = [str(x) if x % 500 == 0 else "" for x in X_TICKS]

Y_AXES = [
    dict(range=[2, 12], tickvals=list(range(2, 13)), minor=0.5, fmt=""),
    dict(range=[0, 800], tickvals=list(range(0, 701, 100)), minor=50, fmt=""),
    dict(range=[800, 2200], tickvals=list(range(800, 2101, 100)), minor=50, fmt=""),
    dict(range=[-0.2, 0.9], tickvals=[-0.2, -0.1, 0.0, 0.1, 0.2, 0.3, 0.4, 0.5, 0.6, 0.7, 0.8],
         minor=0.05, fmt=".1f"),
]

layout = dict(
    width=W, height=H,
    margin=dict(l=M_L, r=M_R, t=M_T, b=M_B, pad=0),
    paper_bgcolor="white", plot_bgcolor="white",
    font=dict(family=FONT, color="black"),
    hovermode=False,
    legend=dict(x=px_x(172), y=px_y(455), xanchor="left", yanchor="top",
                bgcolor="white", bordercolor="black", borderwidth=1,
                font=dict(family=FONT, size=14, color="black"),
                tracegroupgap=0, itemwidth=40),
)

for p in range(4):
    ax = "" if p == 0 else str(p + 1)
    top, bot = PANEL_PX[p]
    yd = Y_AXES[p]
    common = dict(
        ticks="inside", ticklen=6, tickwidth=1, tickcolor="black", mirror="allticks",
        showline=True, linecolor="black", linewidth=2.5,
        showgrid=True, gridcolor=GRID, gridwidth=1, griddash="3px,3px",
        zeroline=False, tickfont=dict(family=FONT, size=28, color="black"),
    )
    layout["xaxis" + ax] = dict(
        common, domain=[0, 1], anchor="y" + ax, range=[0, 5000],
        tickmode="array", tickvals=X_TICKS, ticktext=X_TEXT,
        showticklabels=(p == 3), ticklabelstandoff=0,
        minor=dict(tickmode="linear", tick0=0, dtick=50, ticks="inside", ticklen=4,
                   tickwidth=1, tickcolor="black", showgrid=False),
    )
    layout["yaxis" + ax] = dict(
        common, domain=dom(top, bot), anchor="x" + ax, range=yd["range"],
        tickmode="array", tickvals=yd["tickvals"], tickformat=yd["fmt"],
        ticklabelstandoff=14,
        minor=dict(tickmode="linear", tick0=yd["range"][0], dtick=yd["minor"],
                   ticks="inside", ticklen=4, tickwidth=1, tickcolor="black",
                   showgrid=False),
    )

fig.update_layout(**layout)

# titles
fig.add_annotation(text="QUENCH\u221207 q07v16", x=px_x(640), y=px_y(19), xref="paper",
                   yref="paper", showarrow=False, xanchor="center", yanchor="middle",
                   font=dict(family=FONT, size=26, color="black"))
fig.add_annotation(text="Time (s)", x=px_x(640), y=px_y(1669), xref="paper", yref="paper",
                   showarrow=False, xanchor="center", yanchor="middle",
                   font=dict(family=FONT, size=34, color="black"))
Y_TITLES = [("Power (kW)", 309), ("Ox ih13 (\u03bcm)", 690),
            ("Temp clih13 (K)", 1062), ("Tdot (K/s)", 1488)]
for text, yc in Y_TITLES:
    fig.add_annotation(text=text, x=px_x(31), y=px_y(yc), xref="paper", yref="paper",
                       showarrow=False, xanchor="center", yanchor="middle", textangle=-90,
                       font=dict(family=FONT, size=34, color="black"))

fig.write_html("out.html")
